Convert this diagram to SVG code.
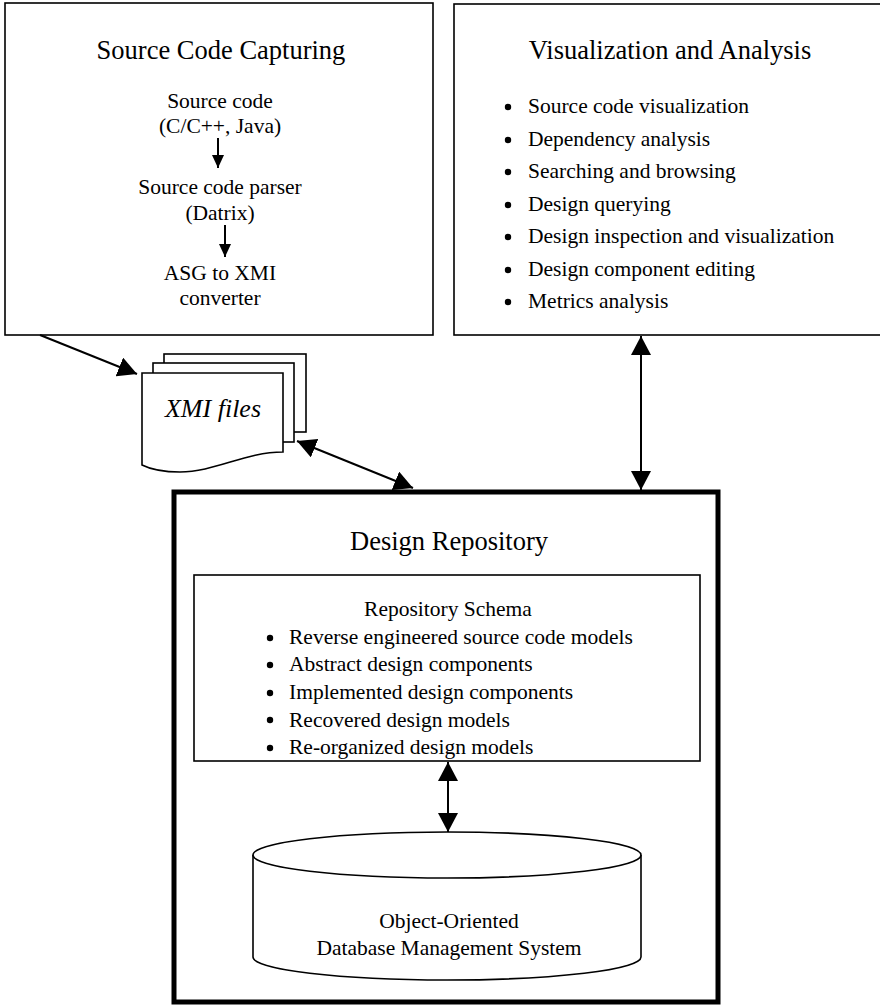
<svg xmlns="http://www.w3.org/2000/svg" width="880" height="1006" viewBox="0 0 880 1006">
<defs>
<style>
text{font-family:"Liberation Serif","Times New Roman",serif;fill:#000}
.t{font-size:26.5px;text-anchor:middle}
.b{font-size:21.5px}
.c{font-size:21.5px;text-anchor:middle}
.box{fill:#fff;stroke:#000;stroke-width:1.6}
.ln{fill:none;stroke:#000;stroke-width:2}
.dot{fill:#000}
</style>
<marker id="big" markerUnits="userSpaceOnUse" markerWidth="20" markerHeight="20" refX="19" refY="10" orient="auto-start-reverse" viewBox="0 0 20 20">
<path d="M0,0 L19,10 L0,20 Z" fill="#000"/>
</marker>
<marker id="sm" markerUnits="userSpaceOnUse" markerWidth="14" markerHeight="12" refX="13" refY="6" orient="auto-start-reverse" viewBox="0 0 14 12">
<path d="M0,0 L13,6 L0,12 Z" fill="#000"/>
</marker>
</defs>
<rect width="880" height="1006" fill="#fff"/>

<g id="source-capturing">
<rect class="box" x="5" y="3" width="428" height="332"/>
<text class="t" x="221" y="59">Source Code Capturing</text>
<text class="c" x="220" y="108">Source code</text>
<text class="c" x="220" y="133">(C/C++, Java)</text>
<text class="c" x="220" y="194">Source code parser</text>
<text class="c" x="220" y="220">(Datrix)</text>
<text class="c" x="220" y="280">ASG to XMI</text>
<text class="c" x="220" y="305">converter</text>
</g>

<g id="visualization-analysis">
<rect class="box" x="454" y="4" width="440" height="331"/>
<text class="t" x="670" y="59">Visualization and Analysis</text>
<circle class="dot" cx="508" cy="107" r="3.2"/><text class="b" x="528" y="113">Source code visualization</text>
<circle class="dot" cx="508" cy="140" r="3.2"/><text class="b" x="528" y="146">Dependency analysis</text>
<circle class="dot" cx="508" cy="172" r="3.2"/><text class="b" x="528" y="178">Searching and browsing</text>
<circle class="dot" cx="508" cy="205" r="3.2"/><text class="b" x="528" y="211">Design querying</text>
<circle class="dot" cx="508" cy="237" r="3.2"/><text class="b" x="528" y="243">Design inspection and visualization</text>
<circle class="dot" cx="508" cy="270" r="3.2"/><text class="b" x="528" y="276">Design component editing</text>
<circle class="dot" cx="508" cy="302" r="3.2"/><text class="b" x="528" y="308">Metrics analysis</text>
</g>

<g id="xmi-files">
<rect class="box" x="164" y="354" width="142" height="78"/>
<rect class="box" x="153" y="363" width="141" height="79"/>
<path class="box" d="M142,373 H283 V452 C245,452 215,472 180,472 C162,472 150,469 142,465 Z"/>
<text x="213" y="417" style="font-size:26px;font-style:italic;text-anchor:middle">XMI files</text>
</g>

<g id="design-repository">
<rect x="174" y="492" width="544" height="510" fill="#fff" stroke="#000" stroke-width="5"/>
<text class="t" x="449" y="550">Design Repository</text>
</g>

<g id="repository-schema">
<rect class="box" x="194" y="575" width="506" height="186"/>
<text class="c" x="448" y="616">Repository Schema</text>
<circle class="dot" cx="270" cy="638" r="3.2"/><text class="b" x="289" y="644">Reverse engineered source code models</text>
<circle class="dot" cx="270" cy="665" r="3.2"/><text class="b" x="289" y="671">Abstract design components</text>
<circle class="dot" cx="270" cy="693" r="3.2"/><text class="b" x="289" y="699">Implemented design components</text>
<circle class="dot" cx="270" cy="720" r="3.2"/><text class="b" x="289" y="726.5">Recovered design models</text>
<circle class="dot" cx="270" cy="748" r="3.2"/><text class="b" x="289" y="754">Re-organized design models</text>
</g>

<g id="oodbms">
<path class="box" d="M253,855 V957 A194,23 0 0 0 641,957 V855"/>
<ellipse class="box" cx="447" cy="855" rx="194" ry="23"/>
<text class="c" x="449" y="928">Object-Oriented</text>
<text class="c" x="449" y="955">Database Management System</text>
</g>

<g id="connectors">
<line class="ln" x1="218" y1="138" x2="218" y2="168" marker-end="url(#sm)"/>
<line class="ln" x1="225" y1="225" x2="225" y2="257" marker-end="url(#sm)"/>
<line class="ln" x1="40" y1="335" x2="137" y2="374" marker-end="url(#big)"/>
<line class="ln" x1="297" y1="441" x2="413" y2="488" marker-start="url(#big)" marker-end="url(#big)"/>
<line class="ln" x1="641" y1="336" x2="641" y2="490" marker-start="url(#big)" marker-end="url(#big)"/>
<line class="ln" x1="448" y1="762" x2="448" y2="832" marker-start="url(#big)" marker-end="url(#big)"/>
</g>
</svg>
